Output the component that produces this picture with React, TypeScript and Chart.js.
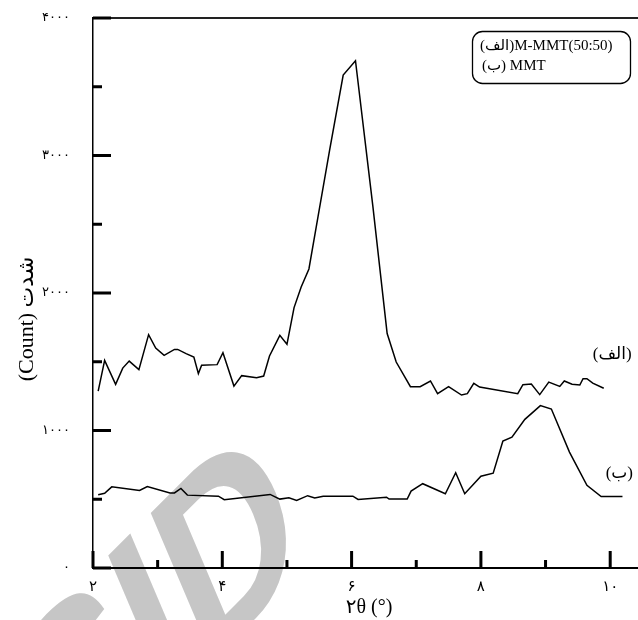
import React, { useEffect, useRef } from "react";
import { Chart, registerables } from "chart.js";

Chart.register(...registerables);

// ---- data ----
const alefTheta = [
  2.08, 2.18, 2.35, 2.46, 2.56, 2.71, 2.86, 2.97, 3.1, 3.26, 3.31, 3.44, 3.56, 3.63, 3.68,
  3.92, 4.01, 4.18, 4.3, 4.53, 4.64, 4.73, 4.89, 5.0, 5.11, 5.22, 5.34, 5.48, 5.66, 5.87,
  6.06, 6.33, 6.55, 6.69, 6.91, 7.06, 7.22, 7.33, 7.5, 7.7, 7.79, 7.89, 7.98, 8.57, 8.65,
  8.78, 8.91, 9.05, 9.22, 9.29, 9.41, 9.53, 9.58, 9.64, 9.73, 9.9,
];
const alefCount = [
  1287, 1510, 1336, 1454, 1505, 1443, 1697, 1600, 1547, 1590, 1590, 1559, 1534, 1414, 1474,
  1479, 1566, 1323, 1399, 1384, 1396, 1542, 1692, 1627, 1894, 2044, 2175, 2553, 3039, 3585,
  3689, 2626, 1705, 1498, 1319, 1319, 1360, 1268, 1319, 1258, 1268, 1343, 1316, 1268, 1333,
  1338, 1261, 1352, 1321, 1360, 1336, 1331, 1377, 1377, 1345, 1307,
];
const beTheta = [
  2.08, 2.18, 2.29, 2.72, 2.84, 3.19, 3.26, 3.36, 3.46, 3.94, 4.03, 4.74, 4.89, 5.03, 5.15,
  5.32, 5.43, 5.56, 6.02, 6.1, 6.54, 6.58, 6.86, 6.92, 7.1, 7.45, 7.61, 7.75, 8.0, 8.19,
  8.34, 8.48, 8.68, 8.92, 9.09, 9.37, 9.64, 9.86, 10.19,
];
const beCount = [
  533, 544, 590, 564, 593, 546, 546, 579, 530, 522, 497, 535, 501, 510, 491,
  526, 510, 522, 522, 499, 515, 501, 501, 559, 613, 540, 693, 540, 668, 690,
  923, 952, 1081, 1181, 1156, 843, 601, 520, 520,
];

const seriesNames = ["(الف)M-MMT(50:50)", "(ب) MMT"];
const curveTags = ["(الف)", "(ب)"];
const tagTheta = [9.73, 9.93];
const tagCount = [1550, 690];

const xMajor = [2, 4, 6, 8, 10];
const xMinor = [3, 5, 7, 9];
const yMajor = [0, 1000, 2000, 3000, 4000];
const yMinor = [500, 1500, 2500, 3500];
const xTitle = "۲θ (°)";
const yTitle = "شدت (Count)";
const watermark = "SID";

const faDigits = "۰۱۲۳۴۵۶۷۸۹";
const toFa = (v: number | string) => String(v).replace(/\d/g, (d) => faDigits[Number(d)]);

const SERIF = '"Liberation Serif", "DejaVu Sans", serif';

const decorPlugin = {
  id: "decor",
  beforeDraw(chart: any) {
    const ctx = chart.ctx;
    ctx.save();
    ctx.translate(59, 815);
    ctx.rotate(-Math.PI / 4);
    ctx.transform(1, 0, -0.404, 1, 0, 0);
    ctx.fillStyle = "#c6c6c6";
    ctx.font = 'bold 216px "Liberation Sans", sans-serif';
    ctx.textAlign = "left";
    ctx.textBaseline = "alphabetic";
    ctx.fillText(watermark, 0, 0);
    ctx.restore();
  },
  afterDatasetsDraw(chart: any) {
    const ctx = chart.ctx;
    const { left, top, right, bottom } = chart.chartArea;
    const xs = chart.scales.x;
    const ys = chart.scales.y;
    ctx.save();
    // top frame line
    ctx.strokeStyle = "#222";
    ctx.lineWidth = 2;
    ctx.beginPath();
    ctx.moveTo(left, top);
    ctx.lineTo(right, top);
    ctx.stroke();
    // inward ticks
    ctx.strokeStyle = "#000";
    ctx.lineWidth = 3;
    ctx.beginPath();
    yMajor.forEach((v) => {
      const py = ys.getPixelForValue(v);
      ctx.moveTo(left, py);
      ctx.lineTo(left + 18, py);
    });
    yMinor.forEach((v) => {
      const py = ys.getPixelForValue(v);
      ctx.moveTo(left, py);
      ctx.lineTo(left + 9, py);
    });
    xMajor.forEach((v) => {
      const px = xs.getPixelForValue(v);
      ctx.moveTo(px, bottom);
      ctx.lineTo(px, bottom - 17);
    });
    xMinor.forEach((v) => {
      const px = xs.getPixelForValue(v);
      ctx.moveTo(px, bottom);
      ctx.lineTo(px, bottom - 8);
    });
    ctx.stroke();

    // legend box
    ctx.lineWidth = 1.3;
    ctx.beginPath();
    ctx.roundRect(472.5, 31.5, 158, 52, 10);
    ctx.stroke();
    ctx.fillStyle = "#000";
    ctx.font = "15px " + SERIF;
    ctx.textAlign = "left";
    ctx.textBaseline = "middle";
    ctx.direction = "ltr";
    ctx.fillText(chart.data.datasets[0].label, 480, 46);
    ctx.fillText(chart.data.datasets[1].label, 482, 66);

    // curve tags
    ctx.font = "17px " + SERIF;
    curveTags.forEach((t, i) => {
      ctx.fillText(t, xs.getPixelForValue(tagTheta[i]), ys.getPixelForValue(tagCount[i]));
    });

    // axis titles
    ctx.textAlign = "center";
    ctx.font = "20px " + SERIF;
    ctx.fillText(xTitle, 369, 608);
    ctx.save();
    ctx.translate(27, 319);
    ctx.rotate(-Math.PI / 2);
    ctx.direction = "rtl";
    ctx.font = "22px " + SERIF;
    ctx.fillText(yTitle, 0, 0);
    ctx.restore();
    ctx.restore();
  },
};

export default function App() {
  const canvasRef = useRef<HTMLCanvasElement | null>(null);

  useEffect(() => {
    const canvas = canvasRef.current;
    if (!canvas) return;
    const chart = new Chart(canvas, {
      type: "line",
      data: {
        datasets: [
          {
            label: seriesNames[0],
            data: alefTheta.map((x, i) => ({ x, y: alefCount[i] })),
            borderColor: "#000",
            borderWidth: 1.5,
            pointRadius: 0,
            tension: 0,
            fill: false,
          },
          {
            label: seriesNames[1],
            data: beTheta.map((x, i) => ({ x, y: beCount[i] })),
            borderColor: "#000",
            borderWidth: 1.5,
            pointRadius: 0,
            tension: 0,
            fill: false,
          },
        ],
      },
      options: {
        animation: false,
        responsive: false,
        devicePixelRatio: 1,
        layout: { padding: { top: 18, right: 0, left: 0, bottom: 0 } },
        plugins: {
          legend: { display: false },
          tooltip: { enabled: false },
        },
        scales: {
          x: {
            type: "linear",
            min: 2,
            max: 10.43,
            afterBuildTicks: (s: any) => {
              s.ticks = xMajor.map((v) => ({ value: v }));
            },
            afterFit: (s: any) => {
              s.height = 52;
            },
            grid: { display: true, drawOnChartArea: false, drawTicks: false },
            border: { display: true, color: "#000", width: 2 },
            ticks: {
              autoSkip: false,
              maxRotation: 0,
              padding: 10,
              color: "#000",
              font: { family: SERIF, size: 15 },
              callback: (v: any) => toFa(v),
            },
          },
          y: {
            type: "linear",
            min: 0,
            max: 4000,
            afterBuildTicks: (s: any) => {
              s.ticks = yMajor.map((v) => ({ value: v }));
            },
            afterFit: (s: any) => {
              s.width = 93;
            },
            grid: {
              display: true,
              drawOnChartArea: false,
              drawTicks: true,
              tickLength: 23,
              tickColor: "rgba(0,0,0,0)",
            },
            border: { display: true, color: "#000", width: 1.5 },
            ticks: {
              padding: 0,
              color: "#000",
              font: { family: SERIF, size: 13 },
              callback: (v: any) => toFa(v),
            },
          },
        },
      },
      plugins: [decorPlugin],
    });
    return () => chart.destroy();
  }, []);

  return (
    <div style={{ position: "absolute", left: 0, top: 0, width: 638, height: 620, background: "#fff" }}>
      <canvas ref={canvasRef} width={638} height={620} style={{ width: 638, height: 620, display: "block" }} />
    </div>
  );
}
